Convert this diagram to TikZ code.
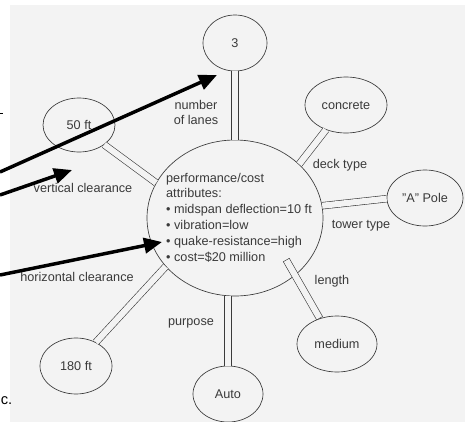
\documentclass[tikz,border=0pt]{standalone}
\usepackage{fontspec}
\setmainfont{Liberation Sans}
\usetikzlibrary{arrows.meta,shapes.geometric}
\definecolor{paper}{HTML}{F3F3F3}
\definecolor{ink}{HTML}{3A3A3A}
\begin{document}
\begin{tikzpicture}[x=0.75pt,y=-0.75pt,
  bubble/.style={ellipse, draw=ink, line width=0.5pt, inner sep=0pt, text=ink,
    font=\fontsize{9.5}{11}\selectfont},
  link/.style={draw=ink, line width=0.45pt, double=paper, double distance=4.6pt},
  lab/.style={font=\fontsize{9.5}{11.25}\selectfont, text=ink, inner sep=0pt, align=center},
  pointer/.style={line width=2.6pt, -{Triangle[length=13.5pt,width=11.5pt]}}]
\useasboundingbox (0,0) rectangle (465,422);
\fill[white] (0,0) rectangle (465,422);
\fill[paper] (10,5) rectangle (465,422);

% bubbles
\node[bubble, minimum width=132pt, minimum height=117pt] (C) at (235,218) {};
\node[lab, align=left, font=\fontsize{9.5}{11.85}\selectfont] (Ctext) at (239,217.5)
  {performance/cost\\attributes:\\• midspan deflection=10 ft\\• vibration=low\\• quake-resistance=high\\• cost=\$20 million};
\node[bubble, minimum width=48pt, minimum height=42pt] (three) at (235,43) {3};
\node[bubble, minimum width=54pt, minimum height=40.5pt] (fifty) at (79,125) {50 ft};
\node[bubble, minimum width=61.5pt, minimum height=42pt] (concrete) at (346,105) {concrete};
\node[bubble, minimum width=57pt, minimum height=42pt] (pole) at (425,198) {"A" Pole};
\node[bubble, minimum width=60pt, minimum height=42pt] (medium) at (337,344) {medium};
\node[bubble, minimum width=52.5pt, minimum height=42pt] (auto) at (228,394) {Auto};
\node[bubble, minimum width=54pt, minimum height=42pt] (eighty) at (76,366) {180 ft};

% double-line links
\draw[link] (C.90) -- (three.-90);
\draw[link] (fifty.-38) -- (C.156);
\draw[link] (concrete.-129) -- (C.40);
\draw[link] (C.8) -- (pole.181);
\coordinate (lenin) at (288,263);
\draw[link, line cap=rect, shorten >=2.75pt] (lenin) -- (medium.124);
\draw[link] (auto.north) -- (auto.north |- C.south);
\draw[link] (eighty.50) -- (C.-145);

% link labels
\node[lab] (lanes) at (196,112) {number\\of lanes};
\node[lab] (vert) at (83,188) {vertical clearance};
\node[lab] (deck) at (340,165) {deck type};
\node[lab] (tower) at (361,226) {tower type};
\node[lab] (len) at (332,281) {length};
\node[lab] (purp) at (191,323) {purpose};
\node[lab] (horiz) at (77,277) {horizontal clearance};

% page fragments
\node[font=\fontsize{11}{13}\selectfont, inner sep=0pt, anchor=west] (etc) at (0.5,401) {c.};
\coordinate (dashA) at (0,113);
\coordinate (dashB) at (3,113);
\draw[line width=0.6pt] (dashA) -- (dashB);

% arrows
\coordinate (a1s) at (0,172);
\coordinate (a1e) at (217,75);
\coordinate (a2s) at (0,195);
\coordinate (a2e) at (72,170);
\coordinate (a3s) at (0,275);
\coordinate (a3e) at (162,242);
\draw[pointer] (a1s) -- (a1e);
\draw[pointer] (a2s) -- (a2e);
\draw[pointer] (a3s) -- (a3e);
\end{tikzpicture}
\end{document}
